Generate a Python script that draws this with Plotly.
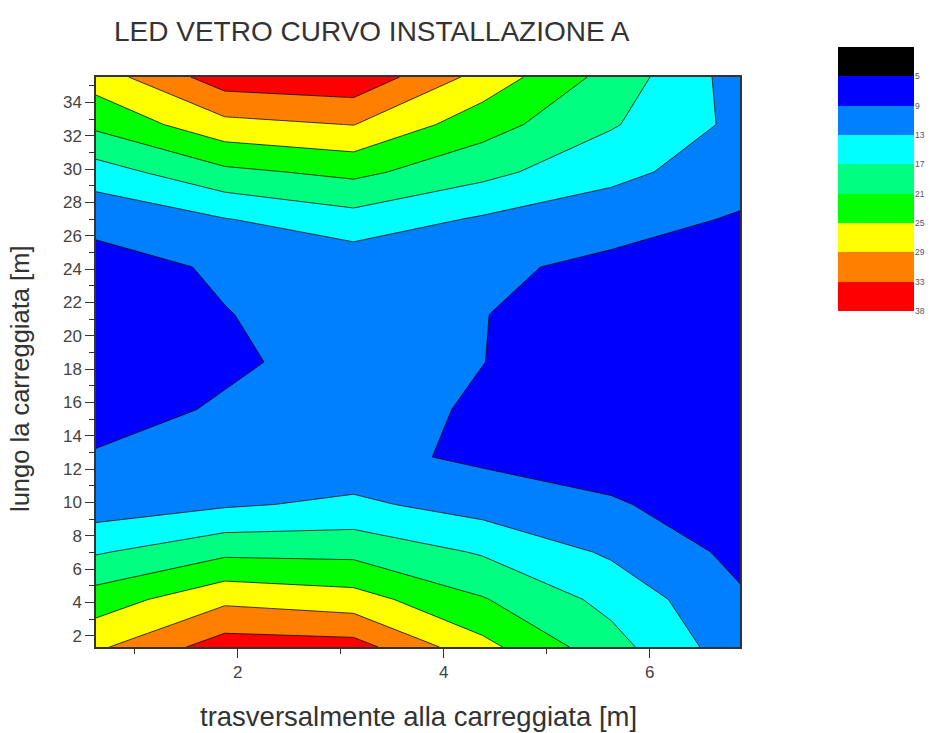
import plotly.graph_objects as go

# ---- data -------------------------------------------------------------
x_vals = [0.625, 1.875, 3.125, 4.375, 5.625, 6.875]
y_vals = [1.33, 4.18, 7.03, 9.88, 12.73, 15.58, 18.43, 21.28, 24.13,
          26.98, 29.83, 32.68, 35.53]
z_r0 = [28.3, 35.0, 34.6, 26.2, 18.5, 10.5]
z_r1 = [22.9, 28.1, 26.7, 21.3, 15.8, 9.5]
z_r2 = [16.6, 20.1, 19.9, 16.6, 12.4, 8.0]
z_r3 = [10.8, 12.5, 13.8, 11.3, 9.4, 7.0]
z_r4 = [9.4, 10.8, 10.1, 8.3, 7.3, 6.3]
z_r5 = [7.2, 9.5, 10.6, 8.5, 6.8, 6.0]
z_r6 = [6.5, 8.3, 10.6, 9.05, 7.0, 6.0]
z_r7 = [6.8, 8.9, 10.2, 9.1, 7.2, 6.2]
z_r8 = [7.8, 9.4, 10.3, 9.9, 7.9, 7.0]
z_r9 = [9.9, 12.8, 15.4, 12.5, 10.9, 8.55]
z_r10 = [15.2, 20.1, 22.0, 18.2, 14.0, 11.0]
z_r11 = [21.9, 27.8, 29.1, 22.7, 17.4, 12.0]
z_r12 = [26.9, 35.2, 36.0, 27.6, 19.5, 11.2]

level_start, level_end, level_step = 5, 33, 4
band_colors = ["#000000", "#0000FF", "#0080FF", "#00FFFF", "#00FF80",
               "#00FF00", "#FFFF00", "#FF8000", "#FF0000"]
legend_labels = ["5", "9", "13", "17", "21", "25", "29", "33", "38"]

title_text = "LED VETRO CURVO INSTALLAZIONE A"
x_title = "trasversalmente alla carreggiata [m]"
y_title = "lungo la carreggiata [m]"

# ---- build -------------------------------------------------------------
z = [z_r0, z_r1, z_r2, z_r3, z_r4, z_r5, z_r6, z_r7, z_r8, z_r9, z_r10,
     z_r11, z_r12]

n = len(band_colors)
scale = []
for k, c in enumerate(band_colors):
    lo = max(0.0, (k - 0.5) / (n - 1))
    hi = min(1.0, (k + 0.5) / (n - 1))
    scale.append([lo, c])
    scale.append([hi, c])

FONT = "Liberation Sans, Arial, sans-serif"
TXT = "#333333"

fig = go.Figure()
fig.add_trace(go.Contour(
    x=x_vals, y=y_vals, z=z,
    autocontour=False,
    contours=dict(start=level_start, end=level_end, size=level_step,
                  coloring="fill", showlines=True),
    line=dict(color="rgba(0,0,0,0.85)", width=0.9, smoothing=0),
    colorscale=scale,
    zauto=False,
    zmin=level_start - level_step / 2,
    zmax=level_end + level_step / 2,
    showscale=False,
    hoverinfo="skip",
))

# colour key as its own small heatmap
fig.add_trace(go.Heatmap(
    x=[0], y=list(range(n)), z=[[k] for k in range(n)],
    colorscale=scale, zmin=0, zmax=n - 1, showscale=False,
    xaxis="x2", yaxis="y2", hoverinfo="skip",
))

W, H = 939, 733
ML, MR, MT, MB = 96, 5, 47, 86
PW, PH = W - ML - MR, H - MT - MB

def px_x(p):
    return (p - ML) / PW

def px_y(p):
    return (H - MB - p) / PH

axis_common = dict(
    showgrid=False, zeroline=False, showline=True, linecolor="#333333",
    linewidth=1.5, mirror=True, ticks="outside", ticklen=9, tickwidth=1.3,
    tickcolor="#333333", dtick=2, tick0=0,
    tickfont=dict(family=FONT, size=17, color="#444444"),
    minor=dict(ticks="outside", dtick=1, ticklen=5, tickwidth=1,
               tickcolor="#333333"),
)

fig.update_layout(
    width=W, height=H,
    margin=dict(l=ML, r=MR, t=MT, b=MB),
    paper_bgcolor="white", plot_bgcolor="white",
    xaxis=dict(domain=[0, px_x(740)], range=[x_vals[0], x_vals[-1]],
               **axis_common),
    yaxis=dict(domain=[0, px_y(77)], range=[y_vals[0], y_vals[-1]],
               **axis_common),
    xaxis2=dict(domain=[px_x(838), px_x(914)], range=[-0.5, 0.5],
                visible=False, anchor="y2"),
    yaxis2=dict(domain=[px_y(311), 1.0], range=[n - 0.5, -0.5],
                anchor="x2", side="right", showgrid=False, zeroline=False,
                showline=False, ticks="",
                tickvals=[k + 0.5 for k in range(n)], ticktext=legend_labels,
                tickfont=dict(family=FONT, size=8.5, color="#555555")),
    annotations=[
        dict(text=title_text, xref="paper", yref="paper", x=px_x(112),
             y=px_y(31), xanchor="left", yanchor="middle", showarrow=False,
             font=dict(family=FONT, size=28, color=TXT)),
        dict(text=x_title, xref="paper", yref="paper", x=px_x(418),
             y=px_y(716), xanchor="center", yanchor="middle",
             showarrow=False, font=dict(family=FONT, size=27.5, color=TXT)),
        dict(text=y_title, xref="paper", yref="paper", x=px_x(20),
             y=px_y(379), xanchor="center", yanchor="middle",
             showarrow=False, textangle=-90,
             font=dict(family=FONT, size=25.5, color=TXT)),
    ],
)

fig.write_html(
    "out.html",
    config={"displayModeBar": False},
    post_script="document.body.style.margin='0px';"
                "document.body.style.overflow='hidden';",
)
